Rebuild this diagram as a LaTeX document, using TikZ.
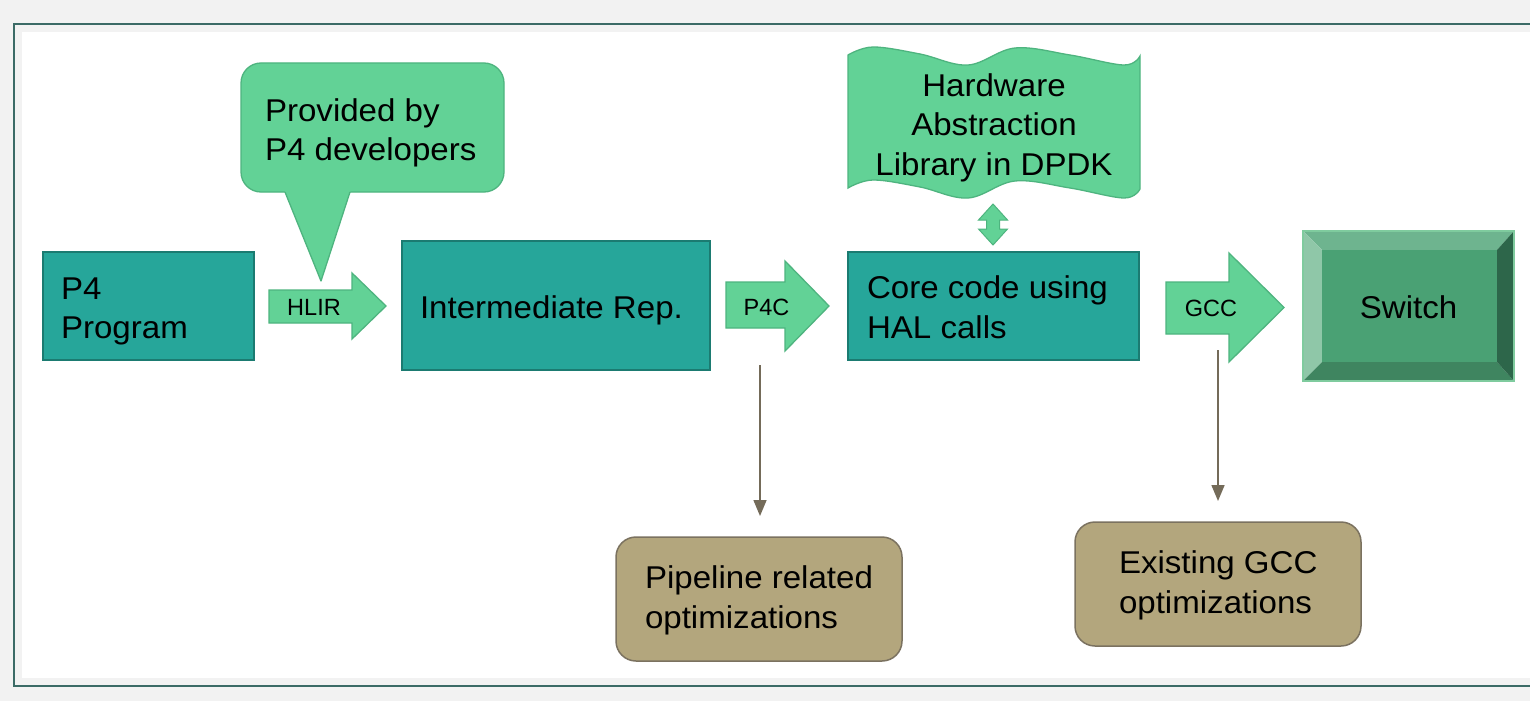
\documentclass[tikz,border=0pt]{standalone}
\usepackage{fontspec}
\setmainfont{Liberation Sans}[FakeStretch=1.05]
\newfontfamily\lblfont{Liberation Sans}
\usetikzlibrary{arrows.meta}
\definecolor{bggray}{HTML}{F2F2F2}
\definecolor{framec}{HTML}{3C6B66}
\definecolor{tealfill}{HTML}{26A69A}
\definecolor{tealline}{HTML}{1B7B71}
\definecolor{greenfill}{HTML}{62D296}
\definecolor{greenline}{HTML}{4EB47F}
\definecolor{tanfill}{HTML}{B3A67D}
\definecolor{tanline}{HTML}{7B7260}
\definecolor{connc}{HTML}{746B59}
\definecolor{swface}{HTML}{4AA174}
\definecolor{swtop}{HTML}{6EB48F}
\definecolor{swleft}{HTML}{8FC7A8}
\definecolor{swbot}{HTML}{3F8560}
\definecolor{swright}{HTML}{2D664A}
\definecolor{swline}{HTML}{7FCB9E}
\begin{document}
\begin{tikzpicture}[x=1pt,y=-1pt,
  every node/.style={inner sep=0pt, outer sep=0pt, text=black},
  bigtext/.style={font=\fontsize{31.5}{39.5}\selectfont},
  lbl/.style={font=\lblfont\fontsize{23.5}{28}\selectfont, anchor=base},
  tealbox/.style={draw=tealline, fill=tealfill, line width=1.3pt, rectangle},
  greenshape/.style={draw=greenline, fill=greenfill, line width=1.3pt},
  tanbox/.style={draw=tanline, fill=tanfill, line width=1.5pt, rectangle, rounded corners=20pt},
  conn/.style={draw=connc, line width=1.6pt, -{Triangle[length=16pt,width=13pt]}}
]
\useasboundingbox (0,0) rectangle (1530,701);
\clip (0,0) rectangle (1530,701);
% background and frame
\fill[bggray] (0,0) rectangle (1530,701);
\fill[white] (22,32) rectangle (1540,678);
\draw[framec, line width=1.3pt] (1540,24) -- (14,24) -- (14,686) -- (1540,686);

% P4 Program
\node[tealbox, minimum width=211pt, minimum height=108pt] (p4) at (148.5,306) {};
\node[bigtext, anchor=base west, align=left] (p4t) at (61,338.5) {P4\\Program};

% HLIR block arrow
\draw[greenshape] (269,290) -- (352,290) -- (352,273) -- (386,306) -- (352,339) -- (352,323) -- (269,323) -- cycle;
\node[lbl] (hlir) at (314,315) {HLIR};

% Callout
\node[greenshape, rounded corners=20pt, minimum width=263pt, minimum height=129pt] (prov) at (372.5,127.5) {};
\fill[greenfill] (284,188) -- (352,188) -- (350,192) -- (321,281) -- (285,192) -- cycle;
\draw[greenline, line width=1.3pt, line join=round] (285,192) -- (321,281) -- (350,192);
\node[bigtext, anchor=base west, align=left] (provt) at (265,160.5) {Provided by\\P4 developers};

% Intermediate Rep.
\node[tealbox, minimum width=308pt, minimum height=129pt] (ir) at (556,305.5) {};
\node[bigtext, anchor=base west] (irt) at (420,318) {Intermediate Rep.};

% P4C block arrow
\draw[greenshape] (726,282) -- (785,282) -- (785,261) -- (829,306) -- (785,351) -- (785,328) -- (726,328) -- cycle;
\node[lbl] (p4c) at (766.5,315) {P4C};

% Core code
\node[tealbox, minimum width=291pt, minimum height=108pt] (core) at (993.5,306) {};
\node[bigtext, anchor=base west, align=left] (coret) at (867,338) {Core code using\\HAL calls};

% HAL library (punched tape)
\draw[greenshape] plot[smooth, tension=0.6] coordinates {(848,55) (873,47) (920,54) (968,65) (1015,48) (1070,55) (1124,65) (1140,56)}
  -- plot[smooth, tension=0.6] coordinates {(1140,189) (1124,198) (1070,188) (1015,181) (968,198) (920,187) (873,180) (848,188)} -- cycle;
\node[bigtext, anchor=base, align=center] (hal) at (994,175) {Hardware\\Abstraction\\Library in DPDK};

% double arrow between library and core
\draw[greenshape, line width=1pt] (993,204) -- (1007.5,220) -- (999.5,220) -- (999.5,229) -- (1007.5,229) -- (993,245) -- (978.5,229) -- (986.5,229) -- (986.5,220) -- (978.5,220) -- cycle;

% GCC block arrow
\draw[greenshape] (1166,282) -- (1229,282) -- (1229,253) -- (1284,307.5) -- (1229,362) -- (1229,334) -- (1166,334) -- cycle;
\node[lbl] (gcc) at (1211,316.5) {GCC};

% Switch (bevel)
\fill[swtop] (1303,231) -- (1514,231) -- (1497,250) -- (1322,250) -- cycle;
\fill[swleft] (1303,231) -- (1322,250) -- (1322,362) -- (1303,381) -- cycle;
\fill[swbot] (1303,381) -- (1322,362) -- (1497,362) -- (1514,381) -- cycle;
\fill[swright] (1514,231) -- (1514,381) -- (1497,362) -- (1497,250) -- cycle;
\fill[swface] (1322,250) rectangle (1497,362);
\node[draw=swline, line width=1.2pt, minimum width=211pt, minimum height=150pt] (sw) at (1408.5,306) {};
\node[bigtext, anchor=base] (swt) at (1408.5,318) {Switch};

% optimisation boxes
\node[tanbox, minimum width=286pt, minimum height=124pt] (pipe) at (759,599) {};
\node[bigtext, anchor=base west, align=left] (pipet) at (645,628) {Pipeline related\\optimizations};
\node[tanbox, minimum width=286pt, minimum height=124pt] (egcc) at (1218,584) {};
\node[bigtext, anchor=base west, align=left] (egcct) at (1119,613) {Existing GCC\\optimizations};

% connectors
\coordinate (c1) at (760,365);
\coordinate (c2) at (1218,350);
\draw[conn, shorten >=21pt] (c1) -- (c1 |- pipe.north);
\draw[conn, shorten >=21pt] (c2) -- (c2 |- egcc.north);
\end{tikzpicture}
\end{document}
